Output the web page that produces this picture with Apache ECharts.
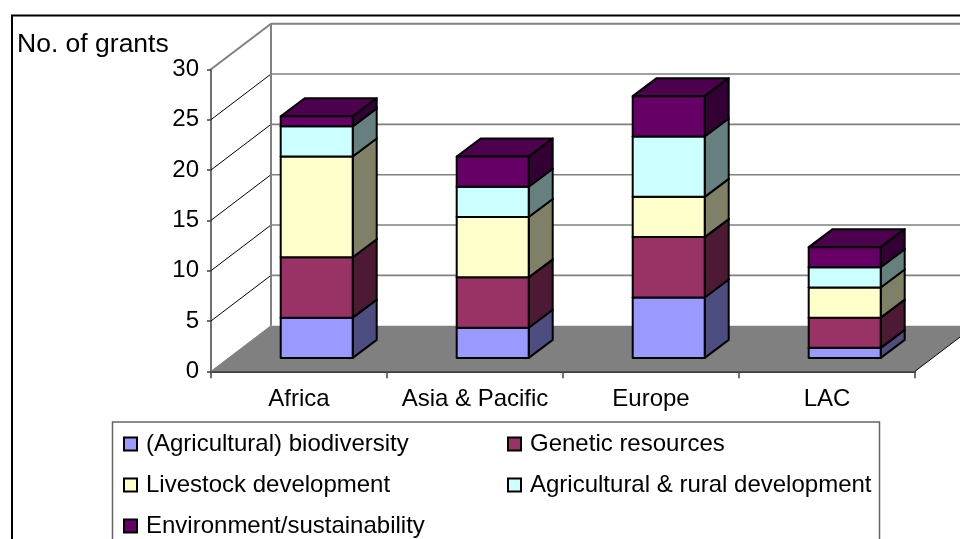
<!DOCTYPE html>
<html>
<head>
<meta charset="utf-8">
<style>html,body{margin:0;padding:0;background:#fff}#chart{width:960px;height:539px}</style>
<script src="https://cdn.jsdelivr.net/npm/echarts@6/dist/echarts.min.js"></script>
</head>
<body>
<div id="chart"></div>
<script>
// Grants per region, stacked by theme
const regions = ['Africa', 'Asia & Pacific', 'Europe', 'LAC'];
const themes = ['(Agricultural) biodiversity', 'Genetic resources', 'Livestock development', 'Agricultural & rural development', 'Environment/sustainability'];
const biodiversity = [4, 3, 6, 1];
const genetic = [6, 5, 6, 3];
const livestock = [10, 6, 4, 3];
const rural = [3, 3, 6, 2];
const environment = [1, 3, 4, 2];
const yTicks = [0, 5, 10, 15, 20, 25, 30];

const seriesValues = [biodiversity, genetic, livestock, rural, environment];
const frontColors = ['#9999FF', '#993366', '#FFFFCC', '#CCFFFF', '#660066'];
const sideColors = ['#4D4D80', '#4D1A33', '#808066', '#668080', '#330033'];
const topColors = ['#7373BF', '#73264D', '#BFBF99', '#99BFBF', '#4D004D'];

// Oblique projection of the 3D box
const WALL_DX = 60, WALL_DY = -45.6;
const BAR_DX = 24, BAR_DY = -18;
const BAR_SHIFT_X = 17.7, BAR_SHIFT_Y = -13.4;
const BAR_RATIO = 72 / 176;

const font = '"Liberation Sans", Arial, sans-serif';

function poly(points, fill, stroke, width) {
  return {
    type: 'polygon',
    shape: { points },
    style: { fill, stroke: stroke || null, lineWidth: width || 0, lineJoin: 'round' }
  };
}
function seg(x1, y1, x2, y2, stroke, width) {
  return { type: 'line', shape: { x1, y1, x2, y2 }, style: { stroke, lineWidth: width } };
}

// Floor, back wall and side wall with their gridlines
function renderWalls(params, api) {
  const cs = params.coordSys;
  const v = api.value(0);
  const y = api.coord([0, v])[1];
  const xl = cs.x, xr = cs.x + cs.width;
  const children = [];
  if (v === 0) {
    children.push(poly([[xl, y], [xl + WALL_DX, y + WALL_DY], [xr + WALL_DX, y + WALL_DY], [xr, y]], '#808080'));
    children.push(seg(xr, y, xr + WALL_DX, y + WALL_DY, '#000', 1));
    children.push(seg(xl, y, xl + WALL_DX, y + WALL_DY, '#808080', 1));
  } else {
    const top = v === yTicks[yTicks.length - 1];
    children.push(seg(xl, y, xl + WALL_DX, y + WALL_DY, top ? '#808080' : '#000', top ? 2 : 1));
    children.push(seg(xl + WALL_DX, y + WALL_DY, xr + WALL_DX, y + WALL_DY, '#808080', top ? 2 : 1.6));
  }
  if (v === yTicks[yTicks.length - 1]) {
    const y0 = api.coord([0, 0])[1];
    children.push(seg(xl + WALL_DX, y + WALL_DY, xl + WALL_DX, y0 + WALL_DY, '#808080', 2));
  }
  return { type: 'group', children };
}

// One stacked segment drawn as a box: front, side and top faces
function renderSegment(s) {
  return function (params, api) {
    const c = api.value(0);
    const lo = api.coord([c, api.value(1)]);
    const hi = api.coord([c, api.value(2)]);
    const w = api.size([1, 0])[0] * BAR_RATIO;
    const x1 = lo[0] - w / 2 + BAR_SHIFT_X, x2 = x1 + w;
    const yb = lo[1] + BAR_SHIFT_Y, yt = hi[1] + BAR_SHIFT_Y;
    const k = '#000';
    return {
      type: 'group',
      children: [
        poly([[x1, yt], [x1 + BAR_DX, yt + BAR_DY], [x2 + BAR_DX, yt + BAR_DY], [x2, yt]], topColors[s], k, 2),
        poly([[x2, yb], [x2 + BAR_DX, yb + BAR_DY], [x2 + BAR_DX, yt + BAR_DY], [x2, yt]], sideColors[s], k, 2),
        poly([[x1, yb], [x2, yb], [x2, yt], [x1, yt]], frontColors[s], k, 2)
      ]
    };
  };
}

const stackSeries = seriesValues.map(function (values, s) {
  const rows = values.map(function (val, c) {
    let base = 0;
    for (let i = 0; i < s; i++) base += seriesValues[i][c];
    return [c, base, base + val];
  });
  return {
    name: themes[s],
    type: 'custom',
    renderItem: renderSegment(s),
    data: rows,
    encode: { x: 0, y: [1, 2] },
    clip: false,
    z: 3,
    itemStyle: { color: frontColors[s], borderColor: '#000', borderWidth: 2 }
  };
});

const legendBase = {
  orient: 'vertical',
  padding: 0,
  icon: 'rect',
  itemWidth: 13,
  itemHeight: 13,
  itemGap: 17,
  height: 110,
  selectedMode: false,
  textStyle: { fontFamily: font, fontSize: 24, color: '#000', padding: [0, 0, 0, 4] }
};

const option = {
  animation: false,
  backgroundColor: '#fff',
  title: {
    text: 'No. of grants',
    left: 17,
    top: 31,
    padding: 0,
    textStyle: { fontFamily: font, fontSize: 26.5, fontWeight: 'normal', color: '#000' }
  },
  grid: { left: 211, right: 45, top: 69.3, bottom: 167.7 },
  xAxis: {
    type: 'category',
    data: regions,
    axisLine: { show: true, lineStyle: { color: '#404040', width: 2 } },
    axisTick: { show: true, alignWithLabel: false, interval: 0, length: 7, lineStyle: { color: '#404040', width: 1.5 } },
    axisLabel: { show: true, interval: 0, hideOverlap: false, fontFamily: font, fontSize: 24, color: '#000', margin: 16 }
  },
  yAxis: {
    type: 'value',
    min: 0,
    max: 30,
    interval: 5,
    axisLine: { show: true, lineStyle: { color: '#404040', width: 1.5 } },
    axisTick: { show: true, length: 4, lineStyle: { color: '#404040', width: 1.5 } },
    axisLabel: { fontFamily: font, fontSize: 24, color: '#000', margin: 12 },
    splitLine: { show: false }
  },
  legend: [
    Object.assign({}, legendBase, { left: 123, top: 432, data: [themes[0], themes[2], themes[4]] }),
    Object.assign({}, legendBase, { left: 507, top: 432, data: [themes[1], themes[3]] })
  ],
  graphic: [
    { type: 'rect', z: -10, silent: true, shape: { x: 12, y: 15.5, width: 1000, height: 600 }, style: { fill: null, stroke: '#000', lineWidth: 2 } },
    { type: 'rect', z: -10, silent: true, shape: { x: 112.5, y: 422, width: 767, height: 200 }, style: { fill: null, stroke: '#666', lineWidth: 1.5 } }
  ],
  series: [
    {
      type: 'custom',
      renderItem: renderWalls,
      data: yTicks.map(function (t) { return [t]; }),
      encode: { y: 0 },
      clip: false,
      silent: true,
      z: 1
    }
  ].concat(stackSeries)
};

const chart = echarts.init(document.getElementById('chart'), null, { renderer: 'canvas' });
chart.setOption(option);
</script>
</body>
</html>
